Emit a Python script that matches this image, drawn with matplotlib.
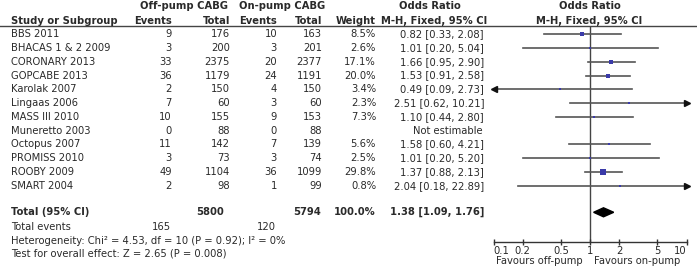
import matplotlib
matplotlib.use("Agg")
import matplotlib.pyplot as plt
import numpy as np

studies = ["BBS 2011", "BHACAS 1 & 2 2009", "CORONARY 2013", "GOPCABE 2013",
           "Karolak 2007", "Lingaas 2006", "MASS III 2010", "Muneretto 2003",
           "Octopus 2007", "PROMISS 2010", "ROOBY 2009", "SMART 2004"]
off_events = [9, 3, 33, 36, 2, 7, 10, 0, 11, 3, 49, 2]
off_total = [176, 200, 2375, 1179, 150, 60, 155, 88, 142, 73, 1104, 98]
on_events = [10, 3, 20, 24, 4, 3, 9, 0, 7, 3, 36, 1]
on_total = [163, 201, 2377, 1191, 150, 60, 153, 88, 139, 74, 1099, 99]
weights = [8.5, 2.6, 17.1, 20.0, 3.4, 2.3, 7.3, np.nan, 5.6, 2.5, 29.8, 0.8]
or_est = [0.82, 1.01, 1.66, 1.53, 0.49, 2.51, 1.10, np.nan, 1.58, 1.01, 1.37, 2.04]
ci_lo = [0.33, 0.20, 0.95, 0.91, 0.09, 0.62, 0.44, np.nan, 0.60, 0.20, 0.88, 0.18]
ci_hi = [2.08, 5.04, 2.90, 2.58, 2.73, 10.21, 2.80, np.nan, 4.21, 5.20, 2.13, 22.89]

total_off, total_on = 5800, 5794
events_off, events_on = 165, 120
total_or, total_lo, total_hi = 1.38, 1.09, 1.76

ticks = [0.1, 0.2, 0.5, 1, 2, 5, 10]
tick_labels = ["0.1", "0.2", "0.5", "1", "2", "5", "10"]

W, H = 697, 268
fs = 7.2
txt = "#2a2a2a"
plt.rcParams['font.family'] = ['DejaVu Sans']

fig = plt.figure(figsize=(W / 100, H / 100), dpi=100)

# text layer in pixel units
tx = fig.add_axes([0, 0, 1, 1])
tx.set_xlim(0, W)
tx.set_ylim(H, 0)
tx.axis("off")

def t(x, y, s, ha="left", bold=False):
    tx.text(x, y, s, ha=ha, va="center", fontsize=fs, color=txt,
            fontweight="bold" if bold else "normal")

# header
t(184, 6, "Off-pump CABG", ha="center", bold=True)
t(282, 6, "On-pump CABG", ha="center", bold=True)
t(430, 6, "Odds Ratio", ha="center", bold=True)
t(590, 6, "Odds Ratio", ha="center", bold=True)
t(11, 20.5, "Study or Subgroup", bold=True)
t(172, 20.5, "Events", ha="right", bold=True)
t(230, 20.5, "Total", ha="right", bold=True)
t(277, 20.5, "Events", ha="right", bold=True)
t(322, 20.5, "Total", ha="right", bold=True)
t(376, 20.5, "Weight", ha="right", bold=True)
t(434, 20.5, "M-H, Fixed, 95% CI", ha="center", bold=True)
t(589, 20.5, "M-H, Fixed, 95% CI", ha="center", bold=True)
tx.axhline(26, color="#444444", lw=1.0)

row0, step = 34.3, 13.76
rows = [row0 + step * i for i in range(len(studies))]

for i, y in enumerate(rows):
    t(11, y, studies[i])
    t(172, y, str(off_events[i]), ha="right")
    t(230, y, str(off_total[i]), ha="right")
    t(277, y, str(on_events[i]), ha="right")
    t(322, y, str(on_total[i]), ha="right")
    if np.isnan(or_est[i]):
        t(483, y, "Not estimable", ha="right")
    else:
        t(376, y, "%.1f%%" % weights[i], ha="right")
        t(484, y, "%.2f [%.2f, %.2f]" % (or_est[i], ci_lo[i], ci_hi[i]), ha="right")

y_tot = 212.3
t(11, y_tot, "Total (95% CI)", bold=True)
t(224, y_tot, str(total_off), ha="right", bold=True)
t(321, y_tot, str(total_on), ha="right", bold=True)
t(376, y_tot, "100.0%", ha="right", bold=True)
t(484, y_tot, "%.2f [%.2f, %.2f]" % (total_or, total_lo, total_hi), ha="right", bold=True)
t(11, 227.3, "Total events")
t(171, 227.3, str(events_off), ha="right")
t(276, 227.3, str(events_on), ha="right")
t(11, 240.5, "Heterogeneity: Chi\u00b2 = 4.53, df = 10 (P = 0.92); I\u00b2 = 0%")
t(11, 253.3, "Test for overall effect: Z = 2.65 (P = 0.008)")
t(583, 261, "Favours off-pump", ha="right")
t(594, 261, "Favours on-pump", ha="left")

# forest plot
x0, x1 = 493.5, 686.5
ytop, ybot = 26, 241.5
ax = fig.add_axes([x0 / W, (H - ybot) / H, (x1 - x0) / W, (ybot - ytop) / H])
ax.set_xscale("log")
ax.set_xlim(0.1, 10)
ax.set_ylim(ybot, ytop)
ax.patch.set_alpha(0)
for s in ["top", "left", "right"]:
    ax.spines[s].set_visible(False)
ax.spines["bottom"].set_color("#333333")
ax.spines["bottom"].set_linewidth(1.0)
ax.set_yticks([])
ax.set_xticks(ticks)
ax.set_xticklabels(tick_labels)
ax.minorticks_off()
ax.tick_params(axis="x", direction="inout", length=5, width=1.0, color="#333333",
               labelsize=fs, labelcolor=txt, pad=0.5)
labs = ax.get_xticklabels()
labs[0].set_ha("left")
labs[-1].set_ha("right")

ax.axvline(1, color="#444444", lw=1.0, zorder=1)

for i, y in enumerate(rows):
    if np.isnan(or_est[i]):
        continue
    lo = max(ci_lo[i], 0.1)
    hi = min(ci_hi[i], 10)
    ax.plot([lo, hi], [y, y], color="#555555", lw=1.2, zorder=2, clip_on=False)
    if ci_lo[i] < 0.1:
        ax.plot([0.1], [y], marker="<", color="#111111", markersize=3.8, zorder=3, clip_on=False)
    if ci_hi[i] > 10:
        ax.plot([10], [y], marker=">", color="#111111", markersize=3.8, zorder=3, clip_on=False)
    side = max(2.2, 5.9 * np.sqrt(weights[i] / 29.8))
    ax.plot([or_est[i]], [y], marker="s", color="#3a3aa8", markersize=side * 0.72,
            markeredgewidth=0, zorder=4, clip_on=False)

ax.fill([total_lo, total_or, total_hi, total_or],
        [y_tot, y_tot - 4.5, y_tot, y_tot + 4.5], color="black", zorder=4)

fig.savefig("out.png", dpi=100)
